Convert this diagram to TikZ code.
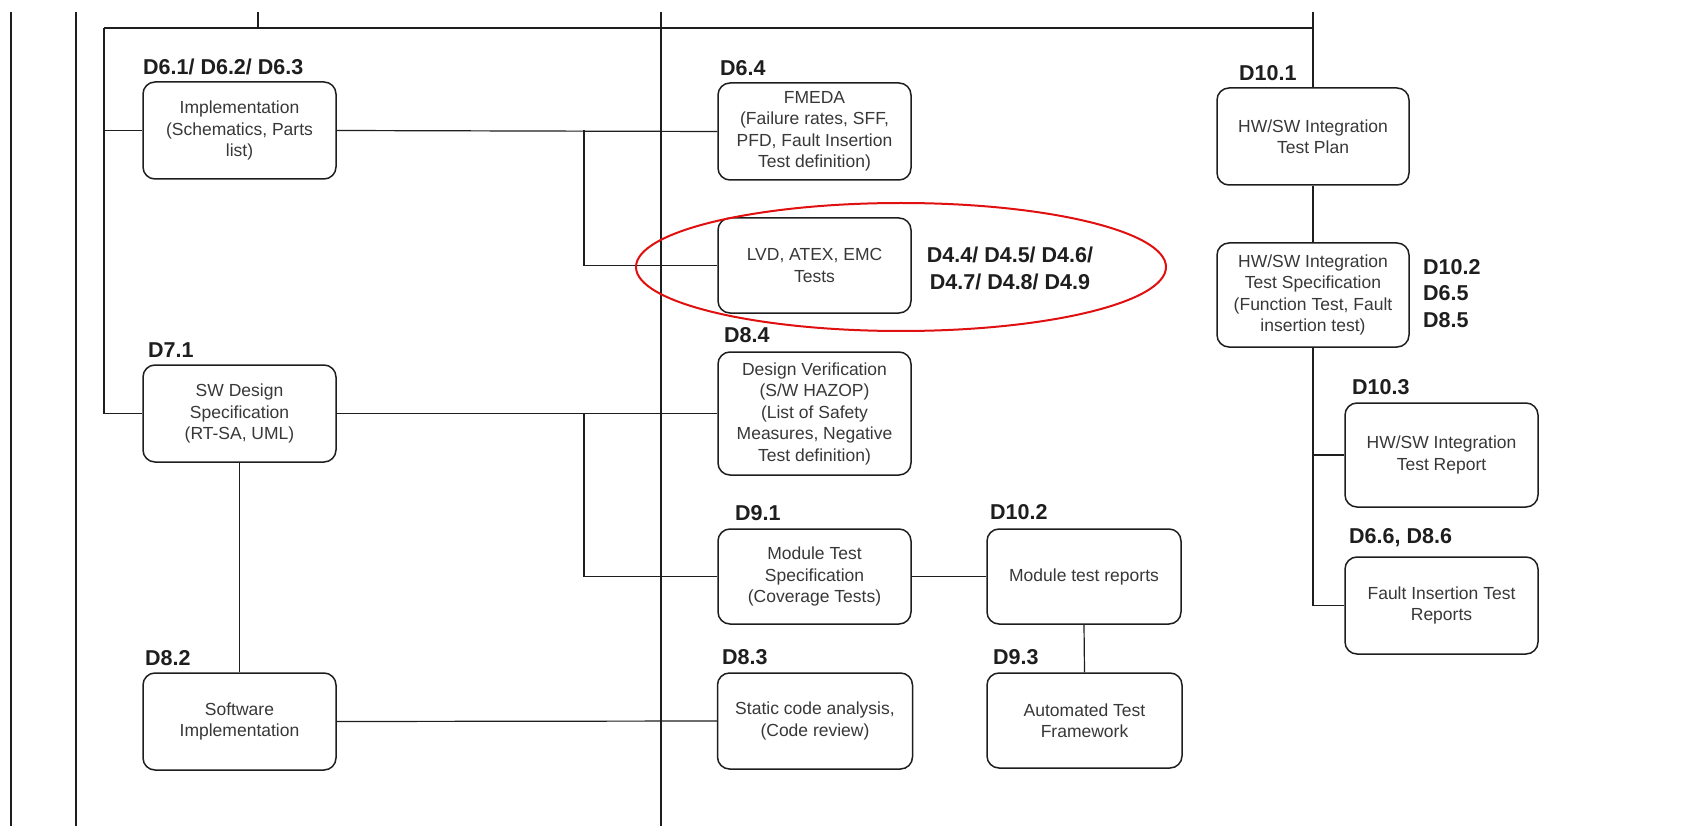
\documentclass[tikz,border=0pt]{standalone}
\usepackage{fontspec}
\setmainfont{Liberation Sans}
\definecolor{ln}{HTML}{1E1E1E}
\definecolor{tx}{HTML}{383838}
\definecolor{ov}{HTML}{E01010}
\newcommand{\bxfont}{\fontsize{17.5}{21.5}\selectfont}
\newcommand{\lbfont}{\fontsize{21.5}{26.5}\selectfont\bfseries}
\begin{document}
\begin{tikzpicture}[x=1pt,y=-1pt,
  wire/.style={draw=ln, line width=1.2pt},
  box/.style={draw=ln, line width=1.5pt, rounded corners=12pt, fill=white,
    minimum width=193pt, minimum height=97pt, align=center, inner sep=0pt,
    font=\bxfont, text=tx},
  lab/.style={anchor=west, inner sep=0pt, font=\lbfont, text=ln},
  labc/.style={inner sep=0pt, font=\lbfont, text=ln, align=center}]
\useasboundingbox[fill=white] (0,0) rectangle (1697,826);

% swimlane separators
\coordinate (s1t) at (11,12);  \coordinate (s1b) at (11,826);
\coordinate (s2t) at (76,12);  \coordinate (s2b) at (76,826);
\coordinate (s3t) at (661,12); \coordinate (s3b) at (661,826);
\draw[wire] (s1t) -- (s1b);
\draw[wire] (s2t) -- (s2b);
\draw[wire] (s3t) -- (s3b);

% boxes
\node[box] (impl) at (239.5,130.5) {Implementation\\(Schematics, Parts\\list)};
\node[box] (swdes) at (239.5,413.5) {SW Design\\Specification\\(RT-SA, UML)};
\node[box] (swimp) at (239.5,721.5) {Software\\Implementation};
\node[box] (fmeda) at (814.5,131.5) {FMEDA\\(Failure rates, SFF,\\PFD, Fault Insertion\\Test definition)};
\node[box, minimum height=95pt] (lvd) at (814.5,265.5) {LVD, ATEX, EMC\\Tests};
\node[box, minimum height=123pt] (dv) at (814.5,413.5) {Design Verification\\(S/W HAZOP)\\(List of Safety\\Measures, Negative\\Test definition)};
\node[box, minimum height=95pt] (mts) at (814.5,576.5) {Module Test\\Specification\\(Coverage Tests)};
\node[box, minimum width=195pt, minimum height=96pt] (sca) at (815,721) {Static code analysis,\\(Code review)};
\node[box, minimum width=194pt, minimum height=95pt] (mtr) at (1084,576.5) {Module test reports};
\node[box, minimum width=195pt, minimum height=95pt] (atf) at (1084.5,720.5) {Automated Test\\Framework};
\node[box, minimum width=192pt] (tp) at (1313,136.5) {HW/SW Integration\\Test Plan};
\node[box, minimum width=192pt, minimum height=104pt] (tspec) at (1313,295) {HW/SW Integration\\Test Specification\\(Function Test, Fault\\insertion test)};
\node[box, minimum height=104pt] (trep) at (1441.5,455) {HW/SW Integration\\Test Report};
\node[box] (fault) at (1441.5,605.5) {Fault Insertion Test\\Reports};

% labels
\node[lab] (l1) at (143,67) {D6.1/ D6.2/ D6.3};
\node[lab] (l2) at (720,68) {D6.4};
\node[lab] (l3) at (1239,73) {D10.1};
\node[lab] (l4) at (148,350) {D7.1};
\node[lab] (l5) at (724,335) {D8.4};
\node[lab] (l6) at (735,513) {D9.1};
\node[lab] (l7) at (990,512) {D10.2};
\node[lab] (l8) at (145,658) {D8.2};
\node[lab] (l9) at (722,657) {D8.3};
\node[lab] (l10) at (993,657) {D9.3};
\node[lab] (l11) at (1352,387) {D10.3};
\node[lab] (l12) at (1349,538) {D6.6, D8.6};
\node[labc] (l13) at (1010,268.5) {D4.4/ D4.5/ D4.6/\\D4.7/ D4.8/ D4.9};
\node[lab, align=left] (l14) at (1423,293.5) {D10.2\\D6.5\\D8.5};

% connectors
\coordinate (topa) at (258,12);
\coordinate (busa) at (258,28);
\coordinate (busl) at (104,28);
\coordinate (busr) at (1313,28);
\coordinate (topr) at (1313,12);
\coordinate (bimp) at (104,130.5);
\coordinate (bsw) at (104,413.5);
\coordinate (br1) at (584,130.5);
\coordinate (br1b) at (584,265.5);
\coordinate (br2) at (584,413.5);
\coordinate (br2b) at (584,576.5);
\coordinate (rrep) at (1313,455);
\coordinate (rflt) at (1313,605.5);

\draw[wire] (topa) -- (busa);
\draw[wire] (busl) -- (busr);
\draw[wire] (topr) -- (tp.north);
\draw[wire] (busl) -- (bsw) -- (swdes.west);
\draw[wire] (bimp) -- (impl.west);
\draw[wire] (impl.east) -- (fmeda.west);
\draw[wire] (br1) -- (br1b) -- (lvd.west);
\draw[wire] (swdes.east) -- (dv.west);
\draw[wire] (br2) -- (br2b) -- (mts.west);
\draw[wire] (mts.east) -- (mtr.west);
\draw[wire] (mtr.south) -- (atf.north);
\draw[wire] (swdes.south) -- (swimp.north);
\draw[wire] (swimp.east) -- (sca.west);
\draw[wire] (tp.south) -- (tspec.north);
\draw[wire] (tspec.south) -- (rflt) -- (fault.west);
\draw[wire] (rrep) -- (trep.west);

% highlight ellipse
\coordinate (ell) at (901,267);
\draw[ov, line width=2pt] (ell) ellipse [x radius=265, y radius=64];
\end{tikzpicture}
\end{document}
